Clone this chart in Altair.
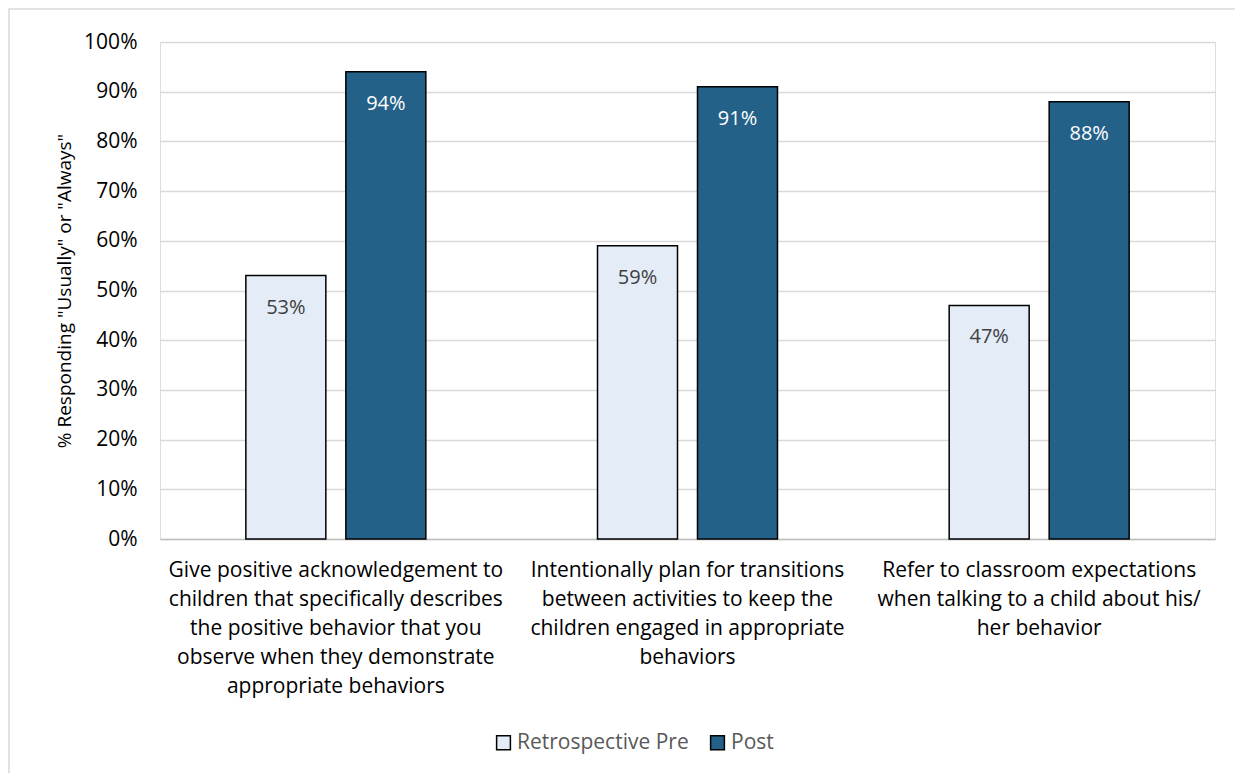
import altair as alt
import pandas as pd

categories = [
    "Give positive acknowledgement to|children that specifically describes|the positive behavior that you|observe when they demonstrate|appropriate behaviors",
    "Intentionally plan for transitions|between activities to keep the|children engaged in appropriate|behaviors",
    "Refer to classroom expectations|when talking to a child about his/|her behavior",
]
series = ["Retrospective Pre", "Post"]
pre_values = [53, 59, 47]
post_values = [94, 91, 88]
y_ticks = [0, 10, 20, 30, 40, 50, 60, 70, 80, 90, 100]

rows = []
for c, p, q in zip(categories, pre_values, post_values):
    rows.append({"cat": c, "series": series[0], "value": p, "label": f"{p}%"})
    rows.append({"cat": c, "series": series[1], "value": q, "label": f"{q}%"})
df = pd.DataFrame(rows)

FONT = "Open Sans"

x = alt.X("cat:N", sort=categories, title=None,
          scale=alt.Scale(paddingInner=0, paddingOuter=0),
          axis=alt.Axis(labelExpr="split(datum.label, '|')", labelAngle=0,
                        labelFontSize=21, labelColor="#000000", labelFont=FONT,
                        labelLineHeight=29, labelPadding=20, ticks=False,
                        domainColor="#bfbfbf", domainWidth=1.5, labelLimit=400))
xoff = alt.XOffset("series:N", sort=series,
                   scale=alt.Scale(paddingInner=0.2, paddingOuter=0.8585))
y = alt.Y("value:Q", title='% Responding "Usually" or "Always"',
          scale=alt.Scale(domain=[0, 100], nice=False),
          axis=alt.Axis(values=y_ticks, labelExpr="datum.value + '%'",
                        labelFontSize=21, labelColor="#000000", labelFont=FONT,
                        labelPadding=23, ticks=False, domain=False,
                        gridColor="#d9d9d9", gridWidth=1.5,
                        titleFontSize=19, titleFont=FONT, titleColor="#000000",
                        titleFontWeight="normal", titlePadding=9))

color = alt.Color("series:N", sort=series,
                  scale=alt.Scale(domain=series, range=["#e3ecf7", "#246189"]),
                  legend=alt.Legend(title=None, orient="none", legendX=333, legendY=690,
                                    direction="horizontal", symbolType="square",
                                    symbolSize=190, symbolStrokeColor="#000000",
                                    symbolStrokeWidth=1.5, labelFontSize=21,
                                    labelColor="#595959", labelFont=FONT,
                                    labelLimit=400, columnPadding=18, labelOffset=3))

bars = alt.Chart(df).mark_bar(stroke="#000000", strokeWidth=1.5).encode(
    x=x, xOffset=xoff, y=y, color=color
)

text = alt.Chart(df).mark_text(dy=32, baseline="middle", fontSize=20, font=FONT).encode(
    x=alt.X("cat:N", sort=categories),
    xOffset=xoff,
    y=alt.Y("value:Q"),
    text="label:N",
    color=alt.Color("series:N", sort=series,
                    scale=alt.Scale(domain=series, range=["#404040", "#ffffff"]),
                    legend=None),
)

border = alt.Chart(pd.DataFrame({"k": [0]})).mark_rect(
    fill=None, stroke="#d9d9d9", strokeWidth=1.5
).encode(
    x=alt.value(-151), x2=alt.value(1120), y=alt.value(-33), y2=alt.value(800)
)

chart = alt.layer(border, bars, text).resolve_scale(color="independent").properties(
    width=1055, height=497,
    autosize=alt.AutoSizeParams(type="none"),
    padding={"left": 152, "top": 34, "right": 20, "bottom": 234},
).configure_view(stroke=None).configure(background="#ffffff")

chart.save("out.html", embed_options={"renderer": "svg", "actions": False})
